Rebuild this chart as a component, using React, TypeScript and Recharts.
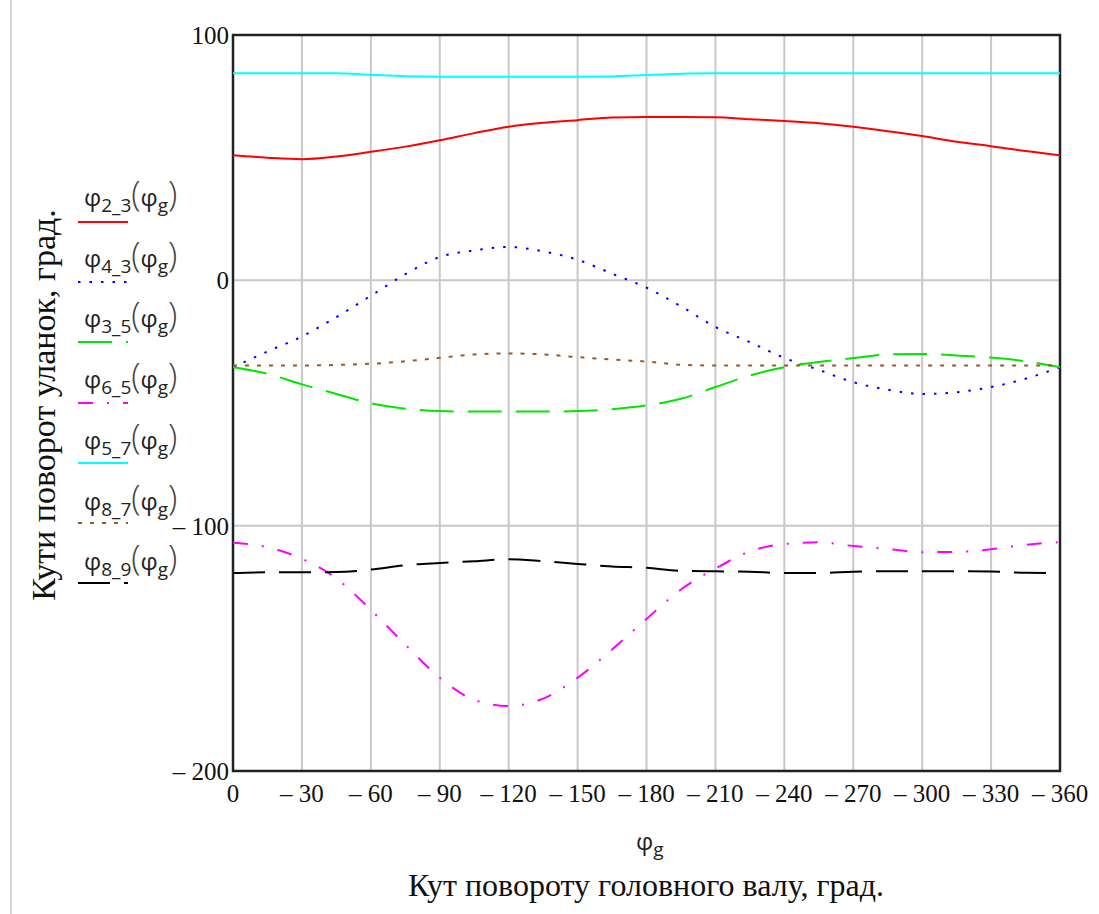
import React from "react";
import { LineChart, Line, XAxis, YAxis, CartesianGrid, ReferenceArea, Legend } from "recharts";

// shaft angle, degrees (plotted as negative values 0 … −360)
const ANGLES = [0, 15, 30, 45, 60, 75, 90, 105, 120, 135, 150, 165, 180, 195, 210, 225, 240, 255, 270, 285, 300, 315, 330, 345, 360];

const PHI_2_3 = [51, 50, 49.4, 50.5, 52.4, 54.5, 57.1, 60, 62.6, 64.2, 65.3, 66.4, 66.6, 66.6, 66.5, 65.7, 64.9, 64, 62.6, 60.8, 58.8, 56.5, 54.7, 52.7, 51];
const PHI_4_3 = [-35.4, -29, -22.9, -15, -6.3, 2.5, 9.5, 12.2, 13.6, 11.8, 8.4, 2.7, -3, -10.6, -19, -25.2, -31.6, -36.5, -41.5, -44.6, -46.3, -45.6, -43.5, -40.1, -35.4];
const PHI_3_5 = [-35.4, -38.1, -42.4, -46.3, -50.1, -52.3, -53.3, -53.5, -53.5, -53.5, -53.3, -52.5, -51, -48.3, -43.5, -38.8, -35.4, -33.3, -31.7, -30.2, -30, -30.6, -31.5, -33, -35.4];
const PHI_6_5 = [-107, -108.8, -113.5, -121.5, -134.3, -148.5, -162, -171, -173.5, -170.5, -162, -150.5, -138, -126, -117.5, -110.5, -107.5, -106.8, -108.3, -109.5, -110.8, -110.7, -109.6, -107.8, -106.7];
const PHI_5_7 = [84.4, 84.4, 84.4, 84.4, 83.8, 83.2, 83, 83, 83, 83, 83, 83.1, 83.7, 84.2, 84.4, 84.4, 84.4, 84.4, 84.4, 84.4, 84.4, 84.4, 84.4, 84.4, 84.4];
const PHI_8_7 = [-34.7, -34.7, -34.7, -34.5, -34, -33, -31.6, -30.2, -29.8, -30.2, -31.3, -32.3, -33.1, -34.4, -34.7, -34.7, -34.7, -34.7, -34.7, -34.7, -34.7, -34.7, -34.7, -34.7, -34.7];
const PHI_8_9 = [-119.3, -119, -119, -118.9, -117.9, -116.1, -115.2, -114.5, -113.7, -114.5, -115.6, -116.6, -117.2, -118.4, -118.6, -118.8, -119.3, -119.3, -118.8, -118.6, -118.6, -118.6, -118.7, -119.2, -119.3];

const X_TICKS = [0, -30, -60, -90, -120, -150, -180, -210, -240, -270, -300, -330, -360];
const Y_TICKS = [-200, -100, 0, 100];

const SERIES = [
  { key: "p23", sub: "2_3", color: "#ff0000", dash: undefined },
  { key: "p43", sub: "4_3", color: "#0000ff", dash: "2.5 9" },
  { key: "p35", sub: "3_5", color: "#00e600", dash: "34 14" },
  { key: "p65", sub: "6_5", color: "#ff00ff", dash: "15 14 2 14" },
  { key: "p57", sub: "5_7", color: "#00ffff", dash: undefined },
  { key: "p87", sub: "8_7", color: "#9a5a26", dash: "4 8" },
  { key: "p89", sub: "8_9", color: "#000000", dash: "32 14" },
];

const data = ANGLES.map((a, i) => ({
  x: -a,
  p23: PHI_2_3[i],
  p43: PHI_4_3[i],
  p35: PHI_3_5[i],
  p65: PHI_6_5[i],
  p57: PHI_5_7[i],
  p87: PHI_8_7[i],
  p89: PHI_8_9[i],
}));

const fmt = (v: number) => (v < 0 ? "\u2013 " + -v : String(v));

const serif = "'Liberation Serif', 'Times New Roman', serif";
const sans = "'Open Sans', 'DejaVu Sans', sans-serif";
const tickStyle = { fontSize: 25, fill: "#111", fontFamily: serif };

function Phi({ sub }: { sub: string }) {
  return (
    <span style={{ fontFamily: sans, fontSize: 24, color: "#222", whiteSpace: "nowrap" }}>
      φ<span style={{ fontSize: 19, verticalAlign: "-6px" }}>{sub}</span>
    </span>
  );
}

function LegendBox() {
  return (
    <div style={{ position: "relative", width: 200, height: 600 }}>
      {SERIES.map((s, i) => (
        <React.Fragment key={s.key}>
          <div style={{ position: "absolute", left: 84, top: 193 + i * 60.7 - 20, lineHeight: "40px", whiteSpace: "nowrap" }}>
            <Phi sub={s.sub} />
            <span style={{ fontFamily: sans, fontSize: 34, fontWeight: 300, color: "#444" }}>(</span>
            <Phi sub="g" />
            <span style={{ fontFamily: sans, fontSize: 34, fontWeight: 300, color: "#444" }}>)</span>
          </div>
          <svg width={52} height={6} style={{ position: "absolute", left: 77, top: 222 + i * 60.2 - 3 }}>
            <line x1={1} y1={3} x2={51} y2={3} stroke={s.color} strokeWidth={2} strokeDasharray={s.dash} />
          </svg>
        </React.Fragment>
      ))}
    </div>
  );
}

export default function App() {
  return (
    <div style={{ position: "absolute", left: 0, top: 0, width: 1099, height: 914, background: "#fff", overflow: "hidden" }}>
      <div style={{ position: "absolute", left: 10, top: 0, width: 2, height: 914, background: "#d4d4d4" }} />
      <LineChart width={1099} height={914} data={data} margin={{ top: 35, right: 39, bottom: 113, left: 193 }}>
        <CartesianGrid stroke="#c8c8c8" strokeWidth={2} />
        <XAxis
          dataKey="x"
          type="number"
          domain={[-360, 0]}
          reversed
          ticks={X_TICKS}
          interval={0}
          tickFormatter={fmt}
          tickLine={false}
          axisLine={false}
          tickMargin={7}
          height={30}
          tick={tickStyle}
        />
        <YAxis
          type="number"
          domain={[-200, 100]}
          ticks={Y_TICKS}
          interval={0}
          tickFormatter={fmt}
          tickLine={false}
          axisLine={false}
          tickSize={2}
          tickMargin={2}
          width={40}
          tick={tickStyle}
        />
        <ReferenceArea x1={-360} x2={0} y1={-200} y2={100} fill="none" stroke="#222" strokeWidth={2.5} ifOverflow="visible" />
        {SERIES.map((s) => (
          <Line
            key={s.key}
            dataKey={s.key}
            type="monotone"
            stroke={s.color}
            strokeWidth={2}
            strokeDasharray={s.dash}
            dot={false}
            activeDot={false}
            isAnimationActive={false}
          />
        ))}
        <Legend
          layout="vertical"
          align="center"
          verticalAlign="middle"
          content={() => <LegendBox />}
          wrapperStyle={{ left: 0, top: 0, width: 200, height: 600 }}
        />
      </LineChart>
      <div style={{ position: "absolute", left: 636, top: 823, lineHeight: "36px" }}>
        <Phi sub="g" />
      </div>
      <div style={{ position: "absolute", left: 0, width: 1292, top: 866, lineHeight: "38px", textAlign: "center", fontFamily: serif, fontSize: 32, color: "#111" }}>
        Кут повороту головного валу, град.
      </div>
      <div
        style={{
          position: "absolute",
          left: 44,
          top: 405,
          transform: "translate(-50%, -50%) rotate(-90deg)",
          whiteSpace: "nowrap",
          fontFamily: serif,
          fontSize: 34,
          color: "#111",
        }}
      >
        Кути поворот уланок, град.
      </div>
    </div>
  );
}
